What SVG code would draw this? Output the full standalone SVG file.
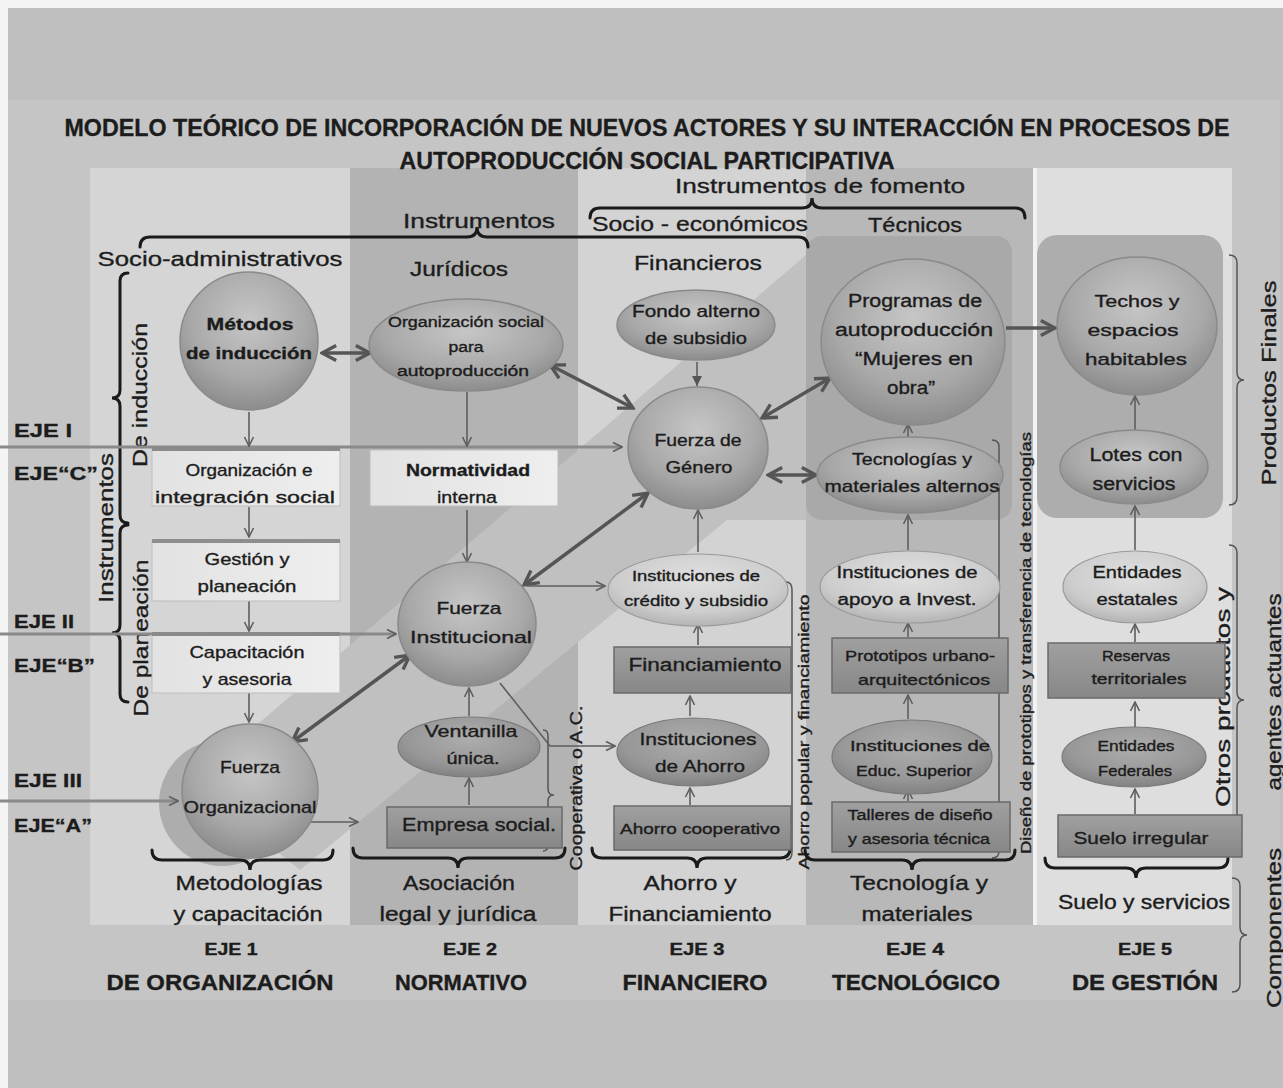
<svg xmlns="http://www.w3.org/2000/svg" width="1283" height="1088" viewBox="0 0 1283 1088">
<defs>
<style>
.t{font-family:"Liberation Sans",Arial,sans-serif;fill:#1c1c1c;stroke:#1c1c1c;stroke-width:0.35;text-anchor:middle}
.b{font-weight:bold}
.brace{fill:none;stroke:#1a1a1a;stroke-width:3;stroke-linecap:round}
.thinb{fill:none;stroke:#555;stroke-width:1.5}
.thick{fill:none;stroke:#555;stroke-width:3.5}
.thin{fill:none;stroke:#5e5e5e;stroke-width:1.6}
.eje{fill:none;stroke:#8a8a8a;stroke-width:3}
.sph{fill:url(#gS);stroke:#8a8a8a;stroke-width:1.5}
.lel{fill:url(#gL);stroke:#9a9a9a;stroke-width:1.2}
.del{fill:url(#gD);stroke:#7a7a7a;stroke-width:1.2}
.drc{fill:url(#gR);stroke:#6a6a6a;stroke-width:1.5}
.lrc{fill:url(#gW);stroke:#bdbdbd;stroke-width:1}
</style>
<radialGradient id="gS" cx="50%" cy="35%" r="65%"><stop offset="0" stop-color="#c6c6c6"/><stop offset="0.65" stop-color="#a8a8a8"/><stop offset="1" stop-color="#8c8c8c"/></radialGradient>
<radialGradient id="gL" cx="50%" cy="35%" r="65%"><stop offset="0" stop-color="#e0e0e0"/><stop offset="0.7" stop-color="#cdcdcd"/><stop offset="1" stop-color="#b4b4b4"/></radialGradient>
<radialGradient id="gD" cx="50%" cy="35%" r="65%"><stop offset="0" stop-color="#adadad"/><stop offset="0.7" stop-color="#979797"/><stop offset="1" stop-color="#828282"/></radialGradient>
<linearGradient id="gR" x1="0" y1="0" x2="0" y2="1"><stop offset="0" stop-color="#a0a0a0"/><stop offset="1" stop-color="#878787"/></linearGradient>
<linearGradient id="gW" x1="0" y1="0" x2="1" y2="0"><stop offset="0" stop-color="#e2e2e2"/><stop offset="1" stop-color="#eeeeee"/></linearGradient>
<marker id="ah" viewBox="0 0 12 12" refX="11" refY="6" markerWidth="12" markerHeight="12" markerUnits="userSpaceOnUse" orient="auto-start-reverse"><path d="M2,1.5 L11,6 L2,10.5" fill="none" stroke="#5e5e5e" stroke-width="1.6"/></marker>
<marker id="ahT" viewBox="0 0 12 12" refX="10.5" refY="6" markerWidth="20" markerHeight="20" markerUnits="userSpaceOnUse" orient="auto-start-reverse"><path d="M2,1.5 L10.5,6 L2,10.5" fill="none" stroke="#555" stroke-width="2"/></marker>
<marker id="ahF" viewBox="0 0 12 12" refX="11" refY="6" markerWidth="12" markerHeight="12" markerUnits="userSpaceOnUse" orient="auto"><path d="M1,1 L11,6 L1,11 z" fill="#555"/></marker>
</defs>

<!-- background -->
<rect x="0" y="0" width="1283" height="1088" fill="#f4f4f4"/>
<rect x="8" y="8" width="1275" height="1080" fill="#bfbfbf"/>
<rect x="8" y="100" width="1272" height="900" fill="#c5c5c5"/>
<!-- columns -->
<rect x="90" y="168" width="260" height="757" fill="#d5d5d5"/>
<rect x="350" y="168" width="228" height="757" fill="#b3b3b3"/>
<rect x="578" y="168" width="228" height="757" fill="#d3d3d3"/>
<rect x="806" y="168" width="227" height="757" fill="#b8b8b8"/>
<rect x="1033" y="168" width="199" height="757" fill="#dedede"/>
<line x1="1035" y1="168" x2="1035" y2="925" stroke="#f2f2f2" stroke-width="4"/>
<!-- diagonal band -->
<polygon points="190,782 806,255 806,520 727,520 300,870" fill="#c0c0c0"/>
<circle cx="222" cy="803" r="63" fill="#adadad"/>
<rect x="806" y="236" width="206" height="284" rx="16" fill="#a9a9a9"/>
<rect x="1037" y="235" width="186" height="283" rx="20" fill="#adadad"/>

<!-- title and headers -->
<g id="title">
<text class="t b" x="647" y="136" font-size="24" textLength="1165" lengthAdjust="spacingAndGlyphs">MODELO TEÓRICO DE INCORPORACIÓN DE NUEVOS  ACTORES Y SU INTERACCIÓN EN PROCESOS DE</text>
<text class="t b" x="647" y="169" font-size="24" textLength="495" lengthAdjust="spacingAndGlyphs">AUTOPRODUCCIÓN SOCIAL PARTICIPATIVA</text>
</g>
<g id="headers">
<text class="t" x="820" y="193" font-size="21" textLength="290" lengthAdjust="spacingAndGlyphs">Instrumentos de fomento</text>
<text class="t" x="479" y="228" font-size="21" textLength="152" lengthAdjust="spacingAndGlyphs">Instrumentos</text>
<text class="t" x="700" y="231" font-size="21" textLength="216" lengthAdjust="spacingAndGlyphs">Socio - económicos</text>
<text class="t" x="915" y="232" font-size="21" textLength="94" lengthAdjust="spacingAndGlyphs">Técnicos</text>
<text class="t" x="220" y="266" font-size="21" textLength="245" lengthAdjust="spacingAndGlyphs">Socio-administrativos</text>
<text class="t" x="459" y="276" font-size="21" textLength="98" lengthAdjust="spacingAndGlyphs">Jurídicos</text>
<text class="t" x="698" y="270" font-size="21" textLength="128" lengthAdjust="spacingAndGlyphs">Financieros</text>
<path class="brace" d="M590,218 Q590,208 600,208 L802,208 Q812,208 812,198 Q812,208 822,208 L1015,208 Q1025,208 1025,218"/>
<path class="brace" d="M140,247 Q140,237 150,237 L467,237 Q477,237 477,227 Q477,237 487,237 L798,237 Q808,237 808,247"/>
<!-- left side -->
<path class="brace" d="M128,273 Q120,273 120,281 L120,390 Q120,398 112,398 Q120,398 120,406 L120,515 Q120,523 128,523"/>
<path class="brace" d="M128,525 Q120,525 120,533 L120,625 Q120,633 112,633 Q120,633 120,641 L120,694 Q120,702 128,702"/>
<text class="t" transform="translate(147,395) rotate(-90)" font-size="21" textLength="144" lengthAdjust="spacingAndGlyphs">De inducción</text>
<text class="t" transform="translate(148,638) rotate(-90)" font-size="21" textLength="157" lengthAdjust="spacingAndGlyphs">De planeación</text>
<text class="t" transform="translate(113,528) rotate(-90)" font-size="21" textLength="150" lengthAdjust="spacingAndGlyphs">Instrumentos</text>
<text class="t b" x="14" y="437" font-size="19" style="text-anchor:start" textLength="58" lengthAdjust="spacingAndGlyphs">EJE I</text>
<text class="t b" x="14" y="480" font-size="19" style="text-anchor:start" textLength="84" lengthAdjust="spacingAndGlyphs">EJE“C”</text>
<text class="t b" x="14" y="628" font-size="19" style="text-anchor:start" textLength="60" lengthAdjust="spacingAndGlyphs">EJE II</text>
<text class="t b" x="14" y="672" font-size="19" style="text-anchor:start" textLength="81" lengthAdjust="spacingAndGlyphs">EJE“B”</text>
<text class="t b" x="14" y="787" font-size="19" style="text-anchor:start" textLength="68" lengthAdjust="spacingAndGlyphs">EJE III</text>
<text class="t b" x="14" y="832" font-size="19" style="text-anchor:start" textLength="78" lengthAdjust="spacingAndGlyphs">EJE“A”</text>
<!-- side labels -->
<path class="thinb" d="M543,730 Q548,730 548,736 L548,789 Q548,795 554,795 Q548,795 548,801 L548,845 Q548,851 543,851"/>
<text class="t" transform="translate(582,788) rotate(-90)" font-size="16" textLength="165" lengthAdjust="spacingAndGlyphs">Cooperativa o A.C.</text>
<path class="thinb" d="M786,582 Q792,582 792,590 L792,852 Q792,860 786,860"/>
<text class="t" transform="translate(809,732) rotate(-90)" font-size="15" textLength="275" lengthAdjust="spacingAndGlyphs">Ahorro popular y financiamiento</text>
<path class="thinb" d="M992,440 Q999,440 999,447 L999,644 Q999,651 1005,651 Q999,651 999,658 L999,851 Q999,858 992,858"/>
<text class="t" transform="translate(1031,643) rotate(-90)" font-size="14" textLength="422" lengthAdjust="spacingAndGlyphs">Diseño de prototipos y transferencia de tecnologías</text>
<path class="thinb" d="M1229,255 Q1237,255 1237,263 L1237,372 Q1237,380 1244,380 Q1237,380 1237,388 L1237,497 Q1237,505 1229,505"/>
<text class="t" transform="translate(1276,383) rotate(-90)" font-size="20" textLength="205" lengthAdjust="spacingAndGlyphs">Productos  Finales</text>
<path class="thinb" d="M1229,545 Q1237,545 1237,553 L1237,692 Q1237,700 1244,700 Q1237,700 1237,708 L1237,842 Q1237,850 1229,850"/>
<text class="t" transform="translate(1230,697) rotate(-90)" font-size="20" textLength="220" lengthAdjust="spacingAndGlyphs">Otros  productos  y</text>
<text class="t" transform="translate(1281,692) rotate(-90)" font-size="20" textLength="197" lengthAdjust="spacingAndGlyphs">agentes actuantes</text>
<path class="thinb" d="M1232,878 Q1240,878 1240,886 L1240,927 Q1240,935 1247,935 Q1240,935 1240,943 L1240,984 Q1240,992 1232,992"/>
<text class="t" transform="translate(1281,928) rotate(-90)" font-size="20" textLength="160" lengthAdjust="spacingAndGlyphs">Componentes</text>
<!-- bottom braces and labels -->
<path class="brace" d="M152,850 Q152,860 162,860 L240,860 Q250,860 250,870 Q250,860 260,860 L323,860 Q333,860 333,850"/>
<path class="brace" d="M353,848 Q353,858 363,858 L448,858 Q458,858 458,868 Q458,858 468,858 L555,858 Q565,858 565,848"/>
<path class="brace" d="M592,848 Q592,858 602,858 L687,858 Q697,858 697,868 Q697,858 707,858 L780,858 Q790,858 790,848"/>
<path class="brace" d="M805,850 Q805,860 815,860 L902,860 Q912,860 912,870 Q912,860 922,860 L1005,860 Q1015,860 1015,850"/>
<path class="brace" d="M1045,858 Q1045,868 1055,868 L1126,868 Q1136,868 1136,878 Q1136,868 1146,868 L1218,868 Q1228,868 1228,858"/>
<text class="t" x="249" y="890" font-size="20" textLength="147" lengthAdjust="spacingAndGlyphs">Metodologías</text>
<text class="t" x="248" y="921" font-size="20" textLength="149" lengthAdjust="spacingAndGlyphs">y capacitación</text>
<text class="t" x="459" y="890" font-size="20" textLength="112" lengthAdjust="spacingAndGlyphs">Asociación</text>
<text class="t" x="458" y="921" font-size="20" textLength="157" lengthAdjust="spacingAndGlyphs">legal  y jurídica</text>
<text class="t" x="690" y="890" font-size="20" textLength="93" lengthAdjust="spacingAndGlyphs">Ahorro y</text>
<text class="t" x="690" y="921" font-size="20" textLength="163" lengthAdjust="spacingAndGlyphs">Financiamiento</text>
<text class="t" x="919" y="890" font-size="20" textLength="138" lengthAdjust="spacingAndGlyphs">Tecnología  y</text>
<text class="t" x="917" y="921" font-size="20" textLength="111" lengthAdjust="spacingAndGlyphs">materiales</text>
<text class="t" x="1144" y="909" font-size="20" textLength="172" lengthAdjust="spacingAndGlyphs">Suelo y servicios</text>
<text class="t b" x="231" y="955" font-size="16" textLength="53" lengthAdjust="spacingAndGlyphs">EJE  1</text>
<text class="t b" x="470" y="955" font-size="16" textLength="54" lengthAdjust="spacingAndGlyphs">EJE  2</text>
<text class="t b" x="697" y="955" font-size="16" textLength="55" lengthAdjust="spacingAndGlyphs">EJE  3</text>
<text class="t b" x="915" y="955" font-size="16" textLength="58" lengthAdjust="spacingAndGlyphs">EJE  4</text>
<text class="t b" x="1145" y="955" font-size="16" textLength="54" lengthAdjust="spacingAndGlyphs">EJE  5</text>
<text class="t b" x="220" y="990" font-size="22" textLength="227" lengthAdjust="spacingAndGlyphs">DE ORGANIZACIÓN</text>
<text class="t b" x="461" y="990" font-size="22" textLength="132" lengthAdjust="spacingAndGlyphs">NORMATIVO</text>
<text class="t b" x="695" y="990" font-size="22" textLength="145" lengthAdjust="spacingAndGlyphs">FINANCIERO</text>
<text class="t b" x="916" y="990" font-size="22" textLength="168" lengthAdjust="spacingAndGlyphs">TECNOLÓGICO</text>
<text class="t b" x="1145" y="990" font-size="22" textLength="146" lengthAdjust="spacingAndGlyphs">DE GESTIÓN</text>
</g>

<!-- connectors -->
<g id="connectors">
<line class="eje" x1="0" y1="447" x2="622" y2="447" marker-end="url(#ah)"/>
<line class="eje" x1="0" y1="634" x2="396" y2="634" marker-end="url(#ah)"/>
<line class="eje" x1="0" y1="801" x2="178" y2="801" marker-end="url(#ah)"/>
<line class="thick" x1="322" y1="353" x2="370" y2="353" marker-start="url(#ahT)" marker-end="url(#ahT)"/>
<line class="thick" x1="550" y1="365" x2="633" y2="408" marker-start="url(#ahT)" marker-end="url(#ahT)"/>
<line class="thick" x1="762" y1="418" x2="830" y2="378" marker-start="url(#ahT)" marker-end="url(#ahT)"/>
<line class="thick" x1="768" y1="475" x2="816" y2="475" marker-start="url(#ahT)" marker-end="url(#ahT)"/>
<line class="thick" x1="524" y1="585" x2="648" y2="493" marker-start="url(#ahT)" marker-end="url(#ahT)"/>
<line class="thick" x1="292" y1="742" x2="410" y2="655" marker-start="url(#ahT)" marker-end="url(#ahT)"/>
<line class="thick" x1="1006" y1="328" x2="1055" y2="328" marker-end="url(#ahT)"/>
<line class="thin" x1="249" y1="412" x2="249" y2="446" marker-end="url(#ah)"/>
<line class="thin" x1="249" y1="507" x2="249" y2="537" marker-end="url(#ah)"/>
<line class="thin" x1="249" y1="601" x2="249" y2="631" marker-end="url(#ah)"/>
<line class="thin" x1="249" y1="693" x2="249" y2="722" marker-end="url(#ah)"/>
<line class="thin" x1="467" y1="392" x2="467" y2="446" marker-end="url(#ah)"/>
<line class="thin" x1="467" y1="510" x2="467" y2="562" marker-end="url(#ah)"/>
<line class="thin" x1="469" y1="716" x2="469" y2="688" marker-end="url(#ah)"/>
<line class="thin" x1="469" y1="805" x2="469" y2="778" marker-end="url(#ah)"/>
<line class="thin" x1="303" y1="822" x2="358" y2="822" marker-end="url(#ah)"/>
<line class="thin" x1="527" y1="586" x2="605" y2="586" marker-end="url(#ah)"/>
<polyline class="thin" points="500,683 550,746 615,746" marker-end="url(#ah)"/>
<line class="thin" x1="697" y1="362" x2="697" y2="386" marker-end="url(#ahF)"/>
<line class="thin" x1="698" y1="552" x2="698" y2="510" marker-end="url(#ah)"/>
<line class="thin" x1="698" y1="645" x2="698" y2="624" marker-end="url(#ah)"/>
<line class="thin" x1="690" y1="716" x2="690" y2="696" marker-end="url(#ah)"/>
<line class="thin" x1="690" y1="805" x2="690" y2="788" marker-end="url(#ah)"/>
<line class="thin" x1="908" y1="437" x2="908" y2="424" marker-end="url(#ah)"/>
<line class="thin" x1="908" y1="550" x2="908" y2="515" marker-end="url(#ah)"/>
<line class="thin" x1="908" y1="637" x2="908" y2="623" marker-end="url(#ah)"/>
<line class="thin" x1="908" y1="719" x2="908" y2="695" marker-end="url(#ah)"/>
<line class="thin" x1="908" y1="801" x2="908" y2="790" marker-end="url(#ah)"/>
<line class="thin" x1="1135" y1="430" x2="1135" y2="396" marker-end="url(#ah)"/>
<line class="thin" x1="1135" y1="550" x2="1135" y2="506" marker-end="url(#ah)"/>
<line class="thin" x1="1135" y1="642" x2="1135" y2="624" marker-end="url(#ah)"/>
<line class="thin" x1="1135" y1="727" x2="1135" y2="702" marker-end="url(#ah)"/>
<line class="thin" x1="1135" y1="814" x2="1135" y2="789" marker-end="url(#ah)"/>
</g>

<!-- nodes: column 1 -->
<g id="metodos"><ellipse class="sph" cx="249" cy="341" rx="69" ry="69"/>
<text class="t b" x="250" y="330" font-size="17" textLength="87" lengthAdjust="spacingAndGlyphs">Métodos</text>
<text class="t b" x="249" y="359" font-size="17" textLength="126" lengthAdjust="spacingAndGlyphs">de inducción</text></g>
<g id="organizacion"><rect class="lrc" x="152" y="450" width="188" height="56"/><rect x="152" y="447" width="188" height="4" fill="#8a8a8a"/>
<text class="t" x="249" y="476" font-size="17" textLength="127" lengthAdjust="spacingAndGlyphs">Organización e</text>
<text class="t" x="245" y="503" font-size="17" textLength="180" lengthAdjust="spacingAndGlyphs">integración  social</text></g>
<g id="gestion"><rect class="lrc" x="152" y="541" width="188" height="60"/><rect x="152" y="539" width="188" height="4" fill="#8e8e8e"/>
<text class="t" x="247" y="565" font-size="17" textLength="85" lengthAdjust="spacingAndGlyphs">Gestión y</text>
<text class="t" x="247" y="592" font-size="17" textLength="99" lengthAdjust="spacingAndGlyphs">planeación</text></g>
<g id="capacitacion"><rect class="lrc" x="152" y="635" width="188" height="58"/><rect x="152" y="632" width="188" height="4" fill="#8a8a8a"/>
<text class="t" x="247" y="658" font-size="17" textLength="115" lengthAdjust="spacingAndGlyphs">Capacitación</text>
<text class="t" x="247" y="685" font-size="17" textLength="89" lengthAdjust="spacingAndGlyphs">y asesoria</text></g>
<g id="fuerza-org"><ellipse class="sph" cx="250" cy="791" rx="68" ry="67"/>
<text class="t" x="250" y="773" font-size="17" textLength="60" lengthAdjust="spacingAndGlyphs">Fuerza</text>
<text class="t" x="250" y="813" font-size="17" textLength="133" lengthAdjust="spacingAndGlyphs">Organizacional</text></g>

<!-- column 2 -->
<g id="org-social"><ellipse class="sph" cx="466" cy="345" rx="97" ry="46"/>
<text class="t" x="466" y="327" font-size="14" textLength="156" lengthAdjust="spacingAndGlyphs">Organización social</text>
<text class="t" x="466" y="352" font-size="14" textLength="35" lengthAdjust="spacingAndGlyphs">para</text>
<text class="t" x="463" y="376" font-size="14" textLength="132" lengthAdjust="spacingAndGlyphs">autoproducción</text></g>
<g id="normatividad"><rect class="lrc" x="370" y="450" width="188" height="56" fill="#ececec"/>
<text class="t b" x="468" y="476" font-size="17" textLength="124" lengthAdjust="spacingAndGlyphs">Normatividad</text>
<text class="t" x="467" y="503" font-size="17" textLength="60" lengthAdjust="spacingAndGlyphs">interna</text></g>
<g id="fuerza-inst"><ellipse class="sph" cx="467" cy="624" rx="69" ry="62"/>
<text class="t" x="469" y="614" font-size="17" textLength="65" lengthAdjust="spacingAndGlyphs">Fuerza</text>
<text class="t" x="471" y="643" font-size="17" textLength="122" lengthAdjust="spacingAndGlyphs">Institucional</text></g>
<g id="ventanilla"><ellipse class="del" cx="469" cy="747" rx="71" ry="30"/>
<text class="t" x="471" y="737" font-size="17" textLength="93" lengthAdjust="spacingAndGlyphs">Ventanilla</text>
<text class="t" x="473" y="764" font-size="17" textLength="53" lengthAdjust="spacingAndGlyphs">única.</text></g>
<g id="empresa"><rect class="drc" x="387" y="807" width="175" height="41"/>
<text class="t" x="479" y="831" font-size="19" textLength="154" lengthAdjust="spacingAndGlyphs">Empresa social.</text></g>

<!-- column 3 -->
<g id="fondo"><ellipse class="sph" cx="696" cy="325" rx="79" ry="35"/>
<text class="t" x="696" y="317" font-size="17" textLength="128" lengthAdjust="spacingAndGlyphs">Fondo alterno</text>
<text class="t" x="696" y="344" font-size="17" textLength="102" lengthAdjust="spacingAndGlyphs">de subsidio</text></g>
<g id="fuerza-genero"><ellipse class="sph" cx="698" cy="448" rx="70" ry="61"/>
<text class="t" x="698" y="446" font-size="17" textLength="87" lengthAdjust="spacingAndGlyphs">Fuerza de</text>
<text class="t" x="699" y="473" font-size="17" textLength="67" lengthAdjust="spacingAndGlyphs">Género</text></g>
<g id="credito"><ellipse class="lel" cx="698" cy="590" rx="90" ry="36"/>
<text class="t" x="696" y="581" font-size="14" textLength="128" lengthAdjust="spacingAndGlyphs">Instituciones de</text>
<text class="t" x="696" y="606" font-size="14" textLength="144" lengthAdjust="spacingAndGlyphs">crédito y subsidio</text></g>
<g id="financiamiento"><rect class="drc" x="614" y="647" width="177" height="46"/>
<text class="t" x="705" y="671" font-size="18" textLength="153" lengthAdjust="spacingAndGlyphs">Financiamiento</text></g>
<g id="inst-ahorro"><ellipse class="del" cx="693" cy="752" rx="76" ry="34"/>
<text class="t" x="698" y="745" font-size="17" textLength="117" lengthAdjust="spacingAndGlyphs">Instituciones</text>
<text class="t" x="700" y="772" font-size="17" textLength="90" lengthAdjust="spacingAndGlyphs">de Ahorro</text></g>
<g id="ahorro-coop"><rect class="drc" x="614" y="806" width="177" height="44"/>
<text class="t" x="700" y="834" font-size="15" textLength="160" lengthAdjust="spacingAndGlyphs">Ahorro cooperativo</text></g>

<!-- column 4 -->
<g id="programas"><ellipse class="sph" cx="913" cy="342" rx="92" ry="83"/>
<text class="t" x="915" y="307" font-size="18" textLength="134" lengthAdjust="spacingAndGlyphs">Programas de</text>
<text class="t" x="914" y="336" font-size="18" textLength="158" lengthAdjust="spacingAndGlyphs">autoproducción</text>
<text class="t" x="914" y="365" font-size="18" textLength="118" lengthAdjust="spacingAndGlyphs">“Mujeres en</text>
<text class="t" x="911" y="394" font-size="18" textLength="48" lengthAdjust="spacingAndGlyphs">obra”</text></g>
<g id="tecnologias"><ellipse class="sph" cx="910" cy="475" rx="93" ry="38"/>
<text class="t" x="912" y="465" font-size="17" textLength="120" lengthAdjust="spacingAndGlyphs">Tecnologías y</text>
<text class="t" x="912" y="492" font-size="17" textLength="175" lengthAdjust="spacingAndGlyphs">materiales alternos</text></g>
<g id="apoyo"><ellipse class="lel" cx="910" cy="587" rx="90" ry="36"/>
<text class="t" x="907" y="578" font-size="16" textLength="141" lengthAdjust="spacingAndGlyphs">Instituciones de</text>
<text class="t" x="907" y="605" font-size="16" textLength="139" lengthAdjust="spacingAndGlyphs">apoyo a  Invest.</text></g>
<g id="prototipos"><rect class="drc" x="832" y="638" width="176" height="55"/>
<text class="t" x="920" y="661" font-size="15" textLength="150" lengthAdjust="spacingAndGlyphs">Prototipos urbano-</text>
<text class="t" x="924" y="685" font-size="15" textLength="132" lengthAdjust="spacingAndGlyphs">arquitectónicos</text></g>
<g id="educ"><ellipse class="del" cx="912" cy="757" rx="80" ry="37"/>
<text class="t" x="920" y="751" font-size="14" textLength="140" lengthAdjust="spacingAndGlyphs">Instituciones de</text>
<text class="t" x="914" y="776" font-size="14" textLength="116" lengthAdjust="spacingAndGlyphs">Educ. Superior</text></g>
<g id="talleres"><rect class="drc" x="832" y="802" width="178" height="50"/>
<text class="t" x="920" y="820" font-size="14" textLength="145" lengthAdjust="spacingAndGlyphs">Talleres de diseño</text>
<text class="t" x="919" y="844" font-size="14" textLength="142" lengthAdjust="spacingAndGlyphs">y asesoria técnica</text></g>

<!-- column 5 -->
<g id="techos"><ellipse class="sph" cx="1137" cy="326" rx="80" ry="69"/>
<text class="t" x="1137" y="307" font-size="17" textLength="85" lengthAdjust="spacingAndGlyphs">Techos y</text>
<text class="t" x="1133" y="336" font-size="17" textLength="91" lengthAdjust="spacingAndGlyphs">espacios</text>
<text class="t" x="1136" y="365" font-size="17" textLength="102" lengthAdjust="spacingAndGlyphs">habitables</text></g>
<g id="lotes"><ellipse class="sph" cx="1134" cy="467" rx="74" ry="37"/>
<text class="t" x="1136" y="461" font-size="18" textLength="93" lengthAdjust="spacingAndGlyphs">Lotes con</text>
<text class="t" x="1134" y="490" font-size="18" textLength="83" lengthAdjust="spacingAndGlyphs">servicios</text></g>
<g id="estatales"><ellipse class="lel" cx="1135" cy="587" rx="72" ry="36"/>
<text class="t" x="1137" y="578" font-size="17" textLength="89" lengthAdjust="spacingAndGlyphs">Entidades</text>
<text class="t" x="1137" y="605" font-size="17" textLength="81" lengthAdjust="spacingAndGlyphs">estatales</text></g>
<g id="reservas"><rect class="drc" x="1048" y="643" width="177" height="55"/>
<text class="t" x="1136" y="661" font-size="14" textLength="68" lengthAdjust="spacingAndGlyphs">Reservas</text>
<text class="t" x="1139" y="684" font-size="14" textLength="95" lengthAdjust="spacingAndGlyphs">territoriales</text></g>
<g id="federales"><ellipse class="del" cx="1134" cy="757" rx="72" ry="30"/>
<text class="t" x="1136" y="751" font-size="14" textLength="77" lengthAdjust="spacingAndGlyphs">Entidades</text>
<text class="t" x="1135" y="776" font-size="14" textLength="74" lengthAdjust="spacingAndGlyphs">Federales</text></g>
<g id="suelo"><rect class="drc" x="1058" y="815" width="184" height="42"/>
<text class="t" x="1141" y="844" font-size="17" textLength="135" lengthAdjust="spacingAndGlyphs">Suelo irregular</text></g>
</svg>
